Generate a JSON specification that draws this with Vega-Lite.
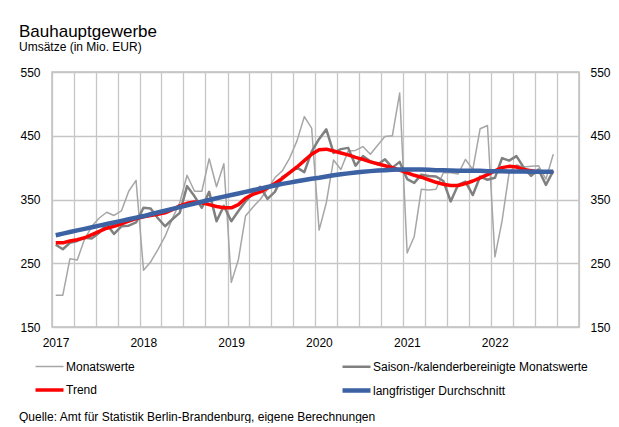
{
  "$schema": "https://vega.github.io/schema/vega-lite/v6.json",
  "width": 527,
  "height": 255,
  "autosize": {"type": "pad"},
  "padding": {"left": 19, "top": 23, "right": 0, "bottom": 0},
  "background": "white",
  "config": {
    "font": "Liberation Sans",
    "view": {"stroke": "#bfbfbf", "strokeWidth": 1.5},
    "axis": {
      "labelFont": "Liberation Sans",
      "labelFontSize": 12,
      "labelColor": "#000000",
      "ticks": false,
      "tickSize": 0,
      "domain": false,
      "gridColor": "#c6c6c6",
      "gridWidth": 1.3,
      "title": null,
      "labelFlush": false,
      "labelOverlap": false
    },
    "legend": {
      "orient": "none",
      "legendX": -33,
      "legendY": 279,
      "direction": "horizontal",
      "columns": 2,
      "columnPadding": 191,
      "rowPadding": 1,
      "symbolType": "stroke",
      "symbolSize": 784,
      "symbolOffset": 14,
      "labelFont": "Liberation Sans",
      "labelFontSize": 12,
      "labelColor": "#000000",
      "labelOffset": 0,
      "labelLimit": 400,
      "titleOrient": "bottom",
      "titleAnchor": "start",
      "titleFont": "Liberation Sans",
      "titleFontSize": 12,
      "titleFontWeight": "normal",
      "titleColor": "#000000",
      "titlePadding": 12,
      "titleLimit": 600
    }
  },
  "title": {
    "text": "Bauhauptgewerbe",
    "subtitle": "Umsätze (in Mio. EUR)",
    "anchor": "start",
    "frame": "bounds",
    "font": "Liberation Sans",
    "fontSize": 17,
    "fontWeight": "normal",
    "color": "#000000",
    "subtitleFont": "Liberation Sans",
    "subtitleFontSize": 12,
    "subtitleColor": "#000000",
    "subtitlePadding": 1,
    "offset": 12
  },
  "data": {
    "values": [
      {"monat": "2017-01", "M": 200, "S": 279, "T": 282, "D": 294},
      {"monat": "2017-02", "M": 200, "S": 272, "T": 282, "D": 296.5},
      {"monat": "2017-03", "M": 257, "S": 282, "T": 285, "D": 299},
      {"monat": "2017-04", "M": 255, "S": 285, "T": 287, "D": 301.5},
      {"monat": "2017-05", "M": 288, "S": 290, "T": 290, "D": 304},
      {"monat": "2017-06", "M": 308, "S": 289, "T": 295, "D": 306.5},
      {"monat": "2017-07", "M": 321, "S": 298, "T": 300, "D": 309},
      {"monat": "2017-08", "M": 330, "S": 311, "T": 305, "D": 311.5},
      {"monat": "2017-09", "M": 325, "S": 296, "T": 308, "D": 314},
      {"monat": "2017-10", "M": 332, "S": 308, "T": 312, "D": 316.5},
      {"monat": "2017-11", "M": 363, "S": 309, "T": 316, "D": 319},
      {"monat": "2017-12", "M": 380, "S": 314, "T": 320, "D": 321.5},
      {"monat": "2018-01", "M": 239, "S": 337, "T": 323, "D": 324},
      {"monat": "2018-02", "M": 252, "S": 336, "T": 325, "D": 326.8},
      {"monat": "2018-03", "M": 271, "S": 321, "T": 327, "D": 329.6},
      {"monat": "2018-04", "M": 292, "S": 308, "T": 329, "D": 332.4},
      {"monat": "2018-05", "M": 320, "S": 319, "T": 334, "D": 335.2},
      {"monat": "2018-06", "M": 345, "S": 329, "T": 340, "D": 338},
      {"monat": "2018-07", "M": 388, "S": 371, "T": 344, "D": 340.8},
      {"monat": "2018-08", "M": 363, "S": 355, "T": 346, "D": 343.6},
      {"monat": "2018-09", "M": 363, "S": 337, "T": 345, "D": 346.4},
      {"monat": "2018-10", "M": 414, "S": 362, "T": 342, "D": 349.2},
      {"monat": "2018-11", "M": 370, "S": 316, "T": 339, "D": 352},
      {"monat": "2018-12", "M": 406, "S": 340, "T": 337, "D": 354.5},
      {"monat": "2019-01", "M": 220, "S": 316, "T": 337, "D": 357},
      {"monat": "2019-02", "M": 256, "S": 332, "T": 342, "D": 359.5},
      {"monat": "2019-03", "M": 324, "S": 347, "T": 352, "D": 362},
      {"monat": "2019-04", "M": 338, "S": 360, "T": 358, "D": 364.5},
      {"monat": "2019-05", "M": 350, "S": 370, "T": 362, "D": 367},
      {"monat": "2019-06", "M": 366, "S": 351, "T": 368, "D": 369.5},
      {"monat": "2019-07", "M": 384, "S": 362, "T": 375, "D": 372},
      {"monat": "2019-08", "M": 395, "S": 385, "T": 383, "D": 374.5},
      {"monat": "2019-09", "M": 415, "S": 392, "T": 392, "D": 376.5},
      {"monat": "2019-10", "M": 442, "S": 400, "T": 401, "D": 378.5},
      {"monat": "2019-11", "M": 480, "S": 393, "T": 411, "D": 380.5},
      {"monat": "2019-12", "M": 462, "S": 425, "T": 421, "D": 382.5},
      {"monat": "2020-01", "M": 302, "S": 445, "T": 428, "D": 384},
      {"monat": "2020-02", "M": 345, "S": 460, "T": 429, "D": 386},
      {"monat": "2020-03", "M": 412, "S": 423, "T": 426, "D": 388},
      {"monat": "2020-04", "M": 397, "S": 429, "T": 423, "D": 389.5},
      {"monat": "2020-05", "M": 426, "S": 431, "T": 420, "D": 391},
      {"monat": "2020-06", "M": 427, "S": 403, "T": 416, "D": 392.5},
      {"monat": "2020-07", "M": 433, "S": 418, "T": 413, "D": 393.5},
      {"monat": "2020-08", "M": 421, "S": 410, "T": 409, "D": 394.5},
      {"monat": "2020-09", "M": 435, "S": 405, "T": 406, "D": 395.5},
      {"monat": "2020-10", "M": 449, "S": 413, "T": 403, "D": 396},
      {"monat": "2020-11", "M": 450, "S": 400, "T": 400, "D": 396.5},
      {"monat": "2020-12", "M": 517, "S": 409, "T": 396, "D": 397},
      {"monat": "2021-01", "M": 266, "S": 382, "T": 392, "D": 397},
      {"monat": "2021-02", "M": 292, "S": 376, "T": 388, "D": 397},
      {"monat": "2021-03", "M": 366, "S": 389, "T": 385, "D": 397},
      {"monat": "2021-04", "M": 365, "S": 387, "T": 381, "D": 396.5},
      {"monat": "2021-05", "M": 366, "S": 386, "T": 377, "D": 396},
      {"monat": "2021-06", "M": 392, "S": 379, "T": 374, "D": 396},
      {"monat": "2021-07", "M": 392, "S": 347, "T": 372, "D": 395.5},
      {"monat": "2021-08", "M": 390, "S": 373, "T": 372, "D": 395},
      {"monat": "2021-09", "M": 413, "S": 378, "T": 375, "D": 395},
      {"monat": "2021-10", "M": 397, "S": 357, "T": 379, "D": 395},
      {"monat": "2021-11", "M": 461, "S": 386, "T": 384, "D": 395},
      {"monat": "2021-12", "M": 466, "S": 381, "T": 389, "D": 394.5},
      {"monat": "2022-01", "M": 260, "S": 384, "T": 395, "D": 394.5},
      {"monat": "2022-02", "M": 316, "S": 415, "T": 400, "D": 394.5},
      {"monat": "2022-03", "M": 392, "S": 411, "T": 402, "D": 394},
      {"monat": "2022-04", "M": 404, "S": 418, "T": 401, "D": 394},
      {"monat": "2022-05", "M": 401, "S": 400, "T": 397, "D": 394},
      {"monat": "2022-06", "M": 402, "S": 387, "T": 395, "D": 393.5},
      {"monat": "2022-07", "M": 403, "S": 397, "T": 393, "D": 393.5},
      {"monat": "2022-08", "M": 382, "S": 373, "T": 393, "D": 393.5},
      {"monat": "2022-09", "M": 421, "S": 395, "T": 393, "D": 393.5}
    ]
  },
  "transform": [{"fold": ["M", "S", "T", "D"], "as": ["serie", "wert"]}],
  "encoding": {
    "x": {
      "field": "monat",
      "timeUnit": "utcyearmonth",
      "type": "temporal",
      "bandPosition": 0.5,
      "scale": {
        "domain": [
          {"year": 2017, "month": 1, "date": 1, "utc": true},
          {"year": 2023, "month": 1, "date": 1, "utc": true}
        ]
      },
      "axis": {
        "values": [
          {"year": 2017, "month": 1, "date": 1, "utc": true}, {"year": 2017, "month": 4, "date": 1, "utc": true}, {"year": 2017, "month": 7, "date": 1, "utc": true}, {"year": 2017, "month": 10, "date": 1, "utc": true},
          {"year": 2018, "month": 1, "date": 1, "utc": true}, {"year": 2018, "month": 4, "date": 1, "utc": true}, {"year": 2018, "month": 7, "date": 1, "utc": true}, {"year": 2018, "month": 10, "date": 1, "utc": true},
          {"year": 2019, "month": 1, "date": 1, "utc": true}, {"year": 2019, "month": 4, "date": 1, "utc": true}, {"year": 2019, "month": 7, "date": 1, "utc": true}, {"year": 2019, "month": 10, "date": 1, "utc": true},
          {"year": 2020, "month": 1, "date": 1, "utc": true}, {"year": 2020, "month": 4, "date": 1, "utc": true}, {"year": 2020, "month": 7, "date": 1, "utc": true}, {"year": 2020, "month": 10, "date": 1, "utc": true},
          {"year": 2021, "month": 1, "date": 1, "utc": true}, {"year": 2021, "month": 4, "date": 1, "utc": true}, {"year": 2021, "month": 7, "date": 1, "utc": true}, {"year": 2021, "month": 10, "date": 1, "utc": true},
          {"year": 2022, "month": 1, "date": 1, "utc": true}, {"year": 2022, "month": 4, "date": 1, "utc": true}, {"year": 2022, "month": 7, "date": 1, "utc": true}, {"year": 2022, "month": 10, "date": 1, "utc": true},
          {"year": 2023, "month": 1, "date": 1, "utc": true}
        ],
        "labelExpr": "utcmonth(datum.value) == 0 && utcyear(datum.value) < 2023 ? utcFormat(datum.value, '%Y') : ''",
        "labelOffset": 3.5,
        "labelPadding": 10,
        "labelAngle": 0,
        "grid": true
      }
    },
    "y": {
      "field": "wert",
      "type": "quantitative",
      "scale": {"domain": [150, 550]},
      "axis": {"orient": "left", "values": [150, 250, 350, 450, 550], "labelPadding": 12, "grid": true}
    },
    "color": {
      "field": "serie",
      "type": "nominal",
      "scale": {"domain": ["M", "S", "T", "D"], "range": ["#a6a6a6", "#808080", "#ff0000", "#3c62a4"]},
      "legend": {
        "labelExpr": "datum.label == 'M' ? 'Monatswerte' : datum.label == 'S' ? 'Saison-/kalenderbereinigte Monatswerte' : datum.label == 'T' ? 'Trend' : 'langfristiger Durchschnitt'",
        "title": "Quelle: Amt für Statistik Berlin-Brandenburg, eigene Berechnungen"
      }
    },
    "strokeWidth": {
      "field": "serie",
      "type": "nominal",
      "scale": {"domain": ["M", "S", "T", "D"], "range": [1.5, 4.5, 4, 4]},
      "legend": {
        "labelExpr": "datum.label == 'M' ? 'Monatswerte' : datum.label == 'S' ? 'Saison-/kalenderbereinigte Monatswerte' : datum.label == 'T' ? 'Trend' : 'langfristiger Durchschnitt'",
        "title": "Quelle: Amt für Statistik Berlin-Brandenburg, eigene Berechnungen"
      }
    }
  },
  "layer": [
    {
      "transform": [{"filter": "datum.serie == 'M'"}],
      "mark": {"type": "line", "strokeJoin": "round"}
    },
    {
      "transform": [{"filter": "datum.serie == 'S'"}],
      "mark": {"type": "line", "strokeJoin": "round"},
      "encoding": {"y": {"field": "wert", "type": "quantitative", "axis": null}}
    },
    {
      "transform": [{"filter": "datum.serie == 'T'"}],
      "mark": {"type": "line", "strokeJoin": "round"},
      "encoding": {"y": {"field": "wert", "type": "quantitative", "axis": null}}
    },
    {
      "transform": [{"filter": "datum.serie == 'D'"}],
      "mark": {"type": "line", "strokeJoin": "round"},
      "encoding": {"y": {"field": "wert", "type": "quantitative", "axis": {"orient": "right", "values": [150, 250, 350, 450, 550], "labelPadding": 11, "grid": false}}}
    }
  ],
  "resolve": {"axis": {"y": "independent"}}
}
